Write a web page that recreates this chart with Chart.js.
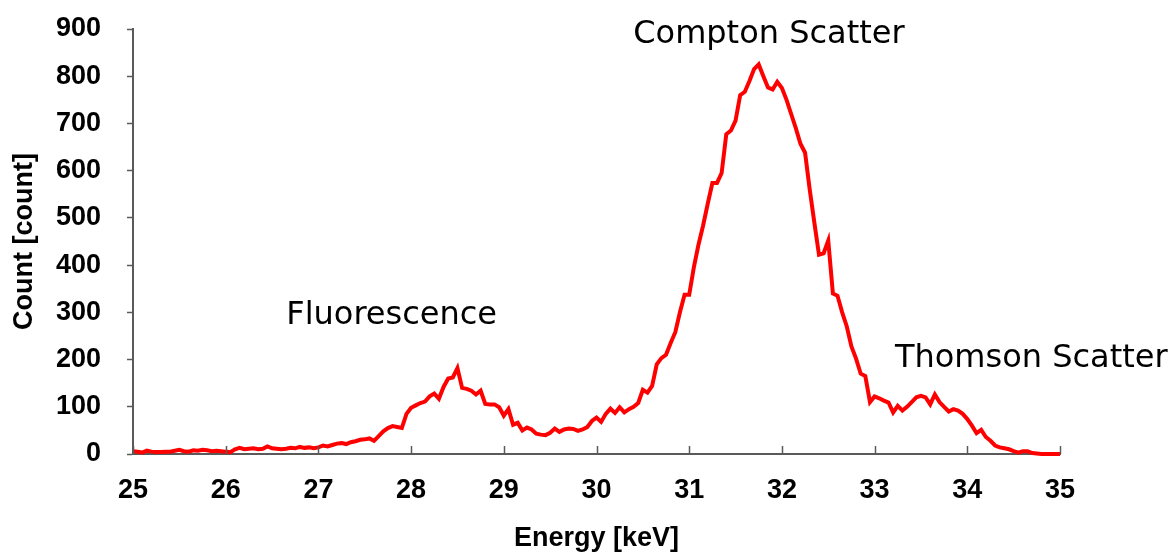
<!DOCTYPE html>
<html>
<head>
<meta charset="utf-8">
<script src="https://cdn.jsdelivr.net/npm/chart.js@4.4.1/dist/chart.umd.min.js"></script>
<style>
  html, body { margin: 0; padding: 0; background: #ffffff; }
  #wrap { width: 1174px; height: 552px; position: relative; }
</style>
</head>
<body>
<div id="wrap"><canvas id="c" width="1174" height="552"></canvas></div>
<script>
// Spectrum channels: 25.00 keV to 35.00 keV in 0.05 keV steps
const energyStart = 25;
const energyStep = 0.05;
const counts = [
  6, 5, 3, 7, 5, 4, 4, 5, 5, 7,
  9, 6, 5, 8, 7, 9, 8, 6, 7, 6,
  5, 4, 10, 13, 10, 11, 12, 10, 11, 16,
  12, 11, 10, 11, 13, 12, 15, 13, 14, 12,
  14, 18, 16, 19, 22, 23, 21, 25, 27, 30,
  31, 33, 28, 38, 48, 55, 59, 57, 55, 85,
  98, 103, 108, 111, 122, 128, 117, 142, 160, 162,
  182, 140, 138, 134, 126, 134, 106, 105, 105, 99,
  81, 95, 62, 66, 50, 56, 52, 43, 41, 40,
  45, 54, 47, 52, 54, 53, 49, 52, 57, 70,
  77, 68, 85, 96, 87, 99, 88, 95, 100, 108,
  136, 130, 144, 190, 203, 210, 235, 258, 300, 337,
  337, 395, 443, 484, 530, 574, 574, 595, 677, 685,
  706, 760, 767, 790, 815, 825, 800, 776, 772, 788,
  775, 750, 720, 690, 657, 638, 560, 490, 422, 425,
  452, 340, 335, 300, 270, 228, 202, 170, 165, 110,
  122, 118, 113, 109, 88, 102, 92, 100, 110, 120,
  123, 120, 105, 126, 110, 100, 90, 95, 92, 85,
  74, 60, 44, 51, 36, 28, 18, 14, 12, 10,
  6, 3, 6, 6, 2, 1, 0, 0, 0, 0,
  0
];
const xTickValues = [25, 26, 27, 28, 29, 30, 31, 32, 33, 34, 35];
const yTickValues = [0, 100, 200, 300, 400, 500, 600, 700, 800, 900];
const annotationTexts = ["Fluorescence", "Compton Scatter", "Thomson Scatter"];
const annotationEnergy = [27.79, 31.86, 34.69];
const annotationCount = [293, 887, 202];

const points = counts.map((c, i) => ({ x: +(energyStart + i * energyStep).toFixed(2), y: c }));

const AXIS_COLOR = '#5a5a5a';
const TICK_FONT = { family: '"Liberation Sans", Arial, sans-serif', size: 27, weight: 'bold' };
const ANN_FONT = '32px "DejaVu Sans", Verdana, sans-serif';

const innerXTicks = {
  id: 'innerXTicks',
  afterDraw(chart) {
    const ctx = chart.ctx, xs = chart.scales.x, area = chart.chartArea;
    ctx.save();
    ctx.strokeStyle = AXIS_COLOR;
    ctx.lineWidth = 1.5;
    xTickValues.forEach(v => {
      const px = Math.round(xs.getPixelForValue(v)) + 0.5;
      ctx.beginPath();
      ctx.moveTo(px, area.bottom);
      ctx.lineTo(px, area.bottom - 8);
      ctx.stroke();
    });
    ctx.restore();
  }
};

const annotations = {
  id: 'annotations',
  afterDatasetsDraw(chart) {
    const ctx = chart.ctx, xs = chart.scales.x, ys = chart.scales.y;
    ctx.save();
    ctx.fillStyle = '#000000';
    ctx.textAlign = 'center';
    ctx.textBaseline = 'middle';
    ctx.font = ANN_FONT;
    annotationTexts.forEach((t, i) => {
      ctx.fillText(t, xs.getPixelForValue(annotationEnergy[i]), ys.getPixelForValue(annotationCount[i]));
    });
    ctx.restore();
  }
};

new Chart(document.getElementById('c'), {
  type: 'line',
  data: {
    datasets: [{
      data: points,
      borderColor: '#ff0000',
      borderWidth: 4,
      pointRadius: 0,
      tension: 0,
      fill: false,
      clip: false
    }]
  },
  options: {
    responsive: false,
    animation: false,
    devicePixelRatio: 1,
    layout: { padding: { left: 0, right: 114, top: 29, bottom: 0 } },
    plugins: { legend: { display: false }, tooltip: { enabled: false } },
    scales: {
      x: {
        type: 'linear',
        min: 25, max: 35,
        afterBuildTicks(scale) { scale.ticks = xTickValues.map(v => ({ value: v })); },
        afterFit(scale) { scale.height = 98; },
        ticks: { color: '#000', font: TICK_FONT, padding: 20, maxRotation: 0 },
        grid: { display: true, drawOnChartArea: false, drawTicks: false },
        border: { display: true, color: AXIS_COLOR, width: 2 },
        title: { display: true, text: 'Energy [keV]', color: '#000', font: TICK_FONT, padding: { top: 0, bottom: -3 } }
      },
      y: {
        min: 0, max: 900,
        afterBuildTicks(scale) { scale.ticks = yTickValues.map(v => ({ value: v })); },
        afterFit(scale) { scale.width = 133; scale.paddingTop = 0; scale.paddingBottom = 0; },
        ticks: { color: '#000', font: TICK_FONT, padding: 26 },
        grid: { display: true, drawOnChartArea: false, drawTicks: true, tickLength: 6, color: AXIS_COLOR, tickWidth: 1.5 },
        border: { display: true, color: AXIS_COLOR, width: 2 },
        title: { display: true, text: 'Count [count]', color: '#000', font: TICK_FONT, padding: { top: 8, bottom: 0 } }
      }
    }
  },
  plugins: [innerXTicks, annotations]
});
</script>
</body>
</html>
